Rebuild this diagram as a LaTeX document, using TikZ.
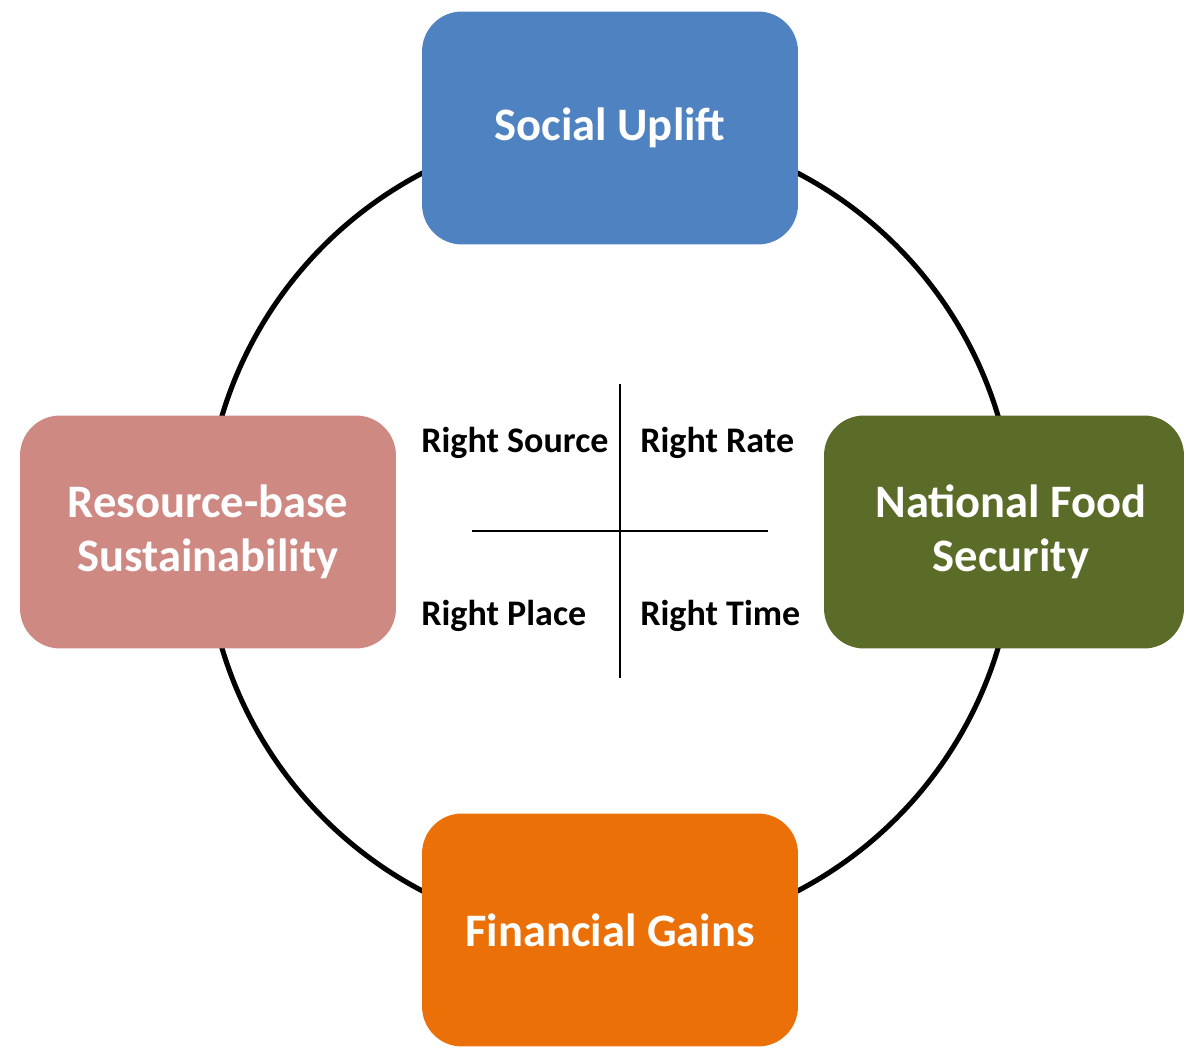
\documentclass[tikz,border=0pt]{standalone}
\usepackage{fontspec}
\setmainfont{Carlito}
\usetikzlibrary{positioning}

\definecolor{upliftblue}{RGB}{79,130,192}
\definecolor{resourcepink}{RGB}{207,137,131}
\definecolor{foodgreen}{RGB}{91,107,40}
\definecolor{gainsorange}{RGB}{236,112,8}

\begin{document}
\begin{tikzpicture}[x=0.02cm,y=-0.02cm,
				goal/.style={rectangle, rounded corners=0.8cm, minimum width=7.52cm, minimum height=4.66cm,
					text=white, align=center, font=\fontsize{26.5}{31}\selectfont\bfseries},
				quad/.style={anchor=base west, inner sep=0pt, font=\fontsize{20.5}{24}\selectfont\bfseries}]
				\useasboundingbox (0,0) rectangle (1186,1050);
				% ring behind the four goals
				\coordinate (hub) at (610,532);
				\draw[line width=2.9pt] (hub) circle [radius=8.1cm];
				\node[goal, fill=upliftblue] (uplift) at (610,128) {Social Uplift};
				\node[goal, fill=resourcepink] (resource) at (208,532) {Resource-base\\Sustainability};
				\node[goal, fill=foodgreen, minimum width=7.2cm] (food) at (1004,532) {\hspace*{0.28cm}National Food\\\hspace*{0.28cm}Security};
				\node[goal, fill=gainsorange] (gains) at (610,930) {Financial Gains};
				% the four rights
				\coordinate (cross) at (620,531);
				\draw[line width=1.2pt] (cross) ++(0,-147) -- ++(0,294);
				\draw[line width=1.2pt] (cross) ++(-148,0) -- ++(296,0);
				\node[quad] (source) at (421,453) {Right Source};
				\node[quad] (rate) at (640,453) {Right Rate};
				\node[quad] (place) at (421,625) {Right Place};
				\node[quad] (time) at (640,625) {Right Time};
			\end{tikzpicture}
\end{document}
